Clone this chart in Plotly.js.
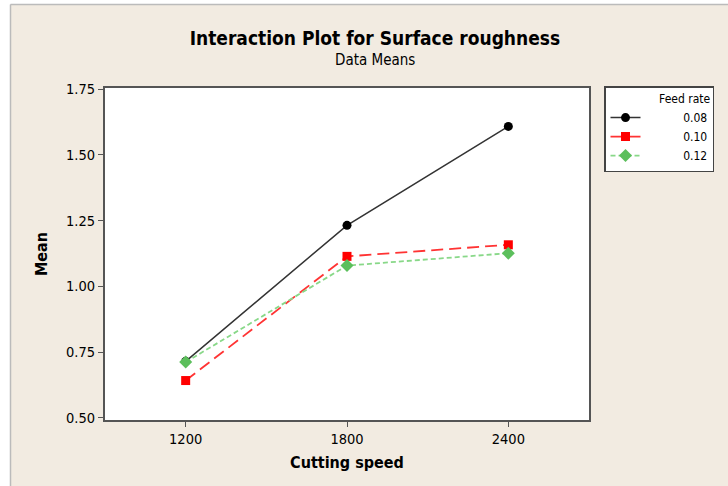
<!DOCTYPE html>
<html>
<head>
<meta charset="utf-8">
<script src="https://cdn.plot.ly/plotly-3.0.1.min.js"></script>
<style>html,body{margin:0;padding:0;background:#fff;}</style>
</head>
<body>
<div id="chart" style="width:728px;height:486px;"></div>
<script>
var cuttingSpeed = ['1200', '1800', '2400'];
var feedRates = ['0.08', '0.10', '0.12'];
var mean008 = [0.715, 1.232, 1.608];
var mean010 = [0.642, 1.114, 1.158];
var mean012 = [0.712, 1.079, 1.126];
var yTicks = [0.50, 0.75, 1.00, 1.25, 1.50, 1.75];
var yTickText = ['0.50', '0.75', '1.00', '1.25', '1.50', '1.75'];

var font = 'Tahoma, "DejaVu Sans Condensed", "DejaVu Sans", sans-serif';
function pad(s){ return '\u00a0\u00a0\u00a0\u00a0\u00a0\u00a0\u00a0\u00a0\u00a0\u00a0\u00a0' + s; }

var traces = [
  {x: cuttingSpeed, y: mean008, name: pad(feedRates[0]), type: 'scatter', mode: 'lines+markers',
   line: {color: '#333333', width: 1.5, dash: 'solid'},
   marker: {symbol: 'circle', size: 9, color: '#000000'}},
  {x: cuttingSpeed, y: mean010, name: pad(feedRates[1]), type: 'scatter', mode: 'lines+markers',
   line: {color: '#ff3333', width: 1.8, dash: '12px,6px'},
   marker: {symbol: 'square', size: 9, color: '#ff0000'}},
  {x: cuttingSpeed, y: mean012, name: pad(feedRates[2]), type: 'scatter', mode: 'lines+markers',
   line: {color: '#88d888', width: 1.8, dash: '5px,3px'},
   marker: {symbol: 'diamond', size: 10, color: '#5cbf5c'}}
];

var beige = '#f2ebe1';
var layout = {
  width: 728, height: 486,
  paper_bgcolor: beige, plot_bgcolor: '#ffffff',
  margin: {l: 105, r: 139, t: 88, b: 66, autoexpand: false},
  showlegend: true,
  legend: {
    x: 1.031, y: 1.006, xanchor: 'left', yanchor: 'top',
    bgcolor: '#ffffff', bordercolor: '#444444', borderwidth: 1.5,
    font: {family: font, size: 12, color: '#000'},
    title: {text: 'Feed rate', side: 'top right', font: {family: font, size: 12, color: '#000'}},
    tracegroupgap: 0, itemwidth: 30
  },
  xaxis: {
    type: 'category', range: [-0.5, 2.5],
    showline: true, mirror: true, linecolor: '#555555', linewidth: 2,
    ticks: 'outside', ticklen: 5, tickcolor: '#555555', tickwidth: 1,
    showgrid: false, zeroline: false,
    tickfont: {family: font, size: 14.5, color: '#000'},
    title: {text: '<b>Cutting speed</b>', font: {family: font, size: 16, color: '#000'}, standoff: 10}
  },
  yaxis: {
    range: [0.492, 1.754],
    tickvals: yTicks, ticktext: yTickText,
    showline: true, mirror: true, linecolor: '#555555', linewidth: 2,
    ticks: 'outside', ticklen: 5, tickcolor: '#555555', tickwidth: 1,
    showgrid: false, zeroline: false,
    tickfont: {family: font, size: 14.5, color: '#000'},
    title: {text: '<b>Mean</b>', font: {family: font, size: 16, color: '#000'}, standoff: 14}
  },
  title: {
    text: '<b>Interaction Plot for Surface roughness</b>',
    font: {family: font, size: 19, color: '#000'},
    x: 0.515, xref: 'container', xanchor: 'center',
    y: 0.922, yref: 'container', yanchor: 'middle'
  },
  annotations: [{
    text: 'Data Means', xref: 'paper', yref: 'paper',
    x: (375 - 105) / 484, y: (420 - 60) / 332, xanchor: 'center', yanchor: 'middle',
    showarrow: false, font: {family: font, size: 15, color: '#000'}
  }],
  shapes: [
    {type: 'rect', xref: 'paper', yref: 'paper', x0: -0.25, x1: 1.35, y0: (420 - 4) / 332, y1: 1.3,
     fillcolor: '#ffffff', line: {width: 0}, layer: 'above'},
    {type: 'rect', xref: 'paper', yref: 'paper', x0: -0.25, x1: (10 - 105) / 484, y0: -0.3, y1: 1.3,
     fillcolor: '#ffffff', line: {width: 0}, layer: 'above'},
    {type: 'line', xref: 'paper', yref: 'paper', x0: (10.5 - 105) / 484, x1: 1.35, y0: (420 - 4.5) / 332, y1: (420 - 4.5) / 332,
     line: {color: '#bbbbbb', width: 1.5}, layer: 'above'},
    {type: 'line', xref: 'paper', yref: 'paper', x0: (10.5 - 105) / 484, x1: (10.5 - 105) / 484, y0: -0.3, y1: (420 - 4.5) / 332,
     line: {color: '#bbbbbb', width: 1.5}, layer: 'above'}
  ]
};

Plotly.newPlot('chart', traces, layout, {displayModeBar: false, staticPlot: true});
</script>
</body>
</html>
